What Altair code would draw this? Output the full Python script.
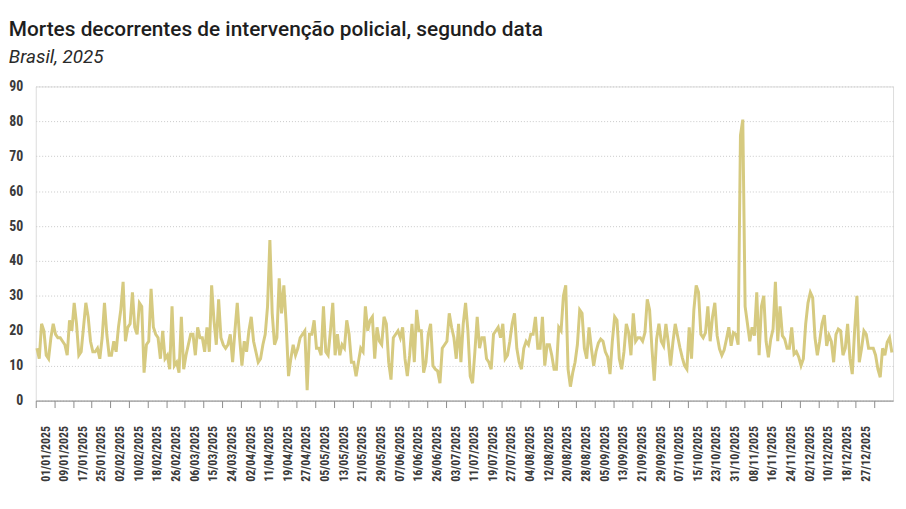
import json

import altair as alt
import pandas as pd

# Daily deaths (one value per category)
mortes = [
    15, 12, 22, 20, 13, 12, 18, 22, 19, 18, 18, 17, 16, 13, 23, 20, 28, 22, 13, 14,
    21, 28, 24, 17, 14, 14, 15, 12, 18, 28, 19, 13, 13, 17, 14, 21, 26, 34, 17, 21,
    22, 31, 21, 19, 28, 27, 8, 16, 17, 32, 21, 19, 18, 12, 20, 12, 13, 9, 27, 10,
    11, 8, 24, 9, 13, 16, 19, 19, 13, 21, 18, 18, 14, 21, 14, 33, 23, 16, 29, 18,
    16, 15, 16, 19, 11, 20, 28, 18, 10, 17, 14, 20, 24, 17, 14, 11, 12, 16, 19, 27,
    46, 25, 16, 18, 35, 25, 33, 22, 7, 12, 16, 13, 15, 18, 19, 20, 3, 19, 19, 23,
    15, 15, 13, 27, 14, 13, 20, 28, 13, 19, 13, 16, 15, 23, 19, 11, 11, 7, 11, 15,
    14, 27, 20, 23, 24, 12, 21, 17, 16, 24, 22, 11, 6, 18, 19, 20, 18, 21, 12, 7,
    13, 22, 11, 26, 20, 20, 8, 11, 19, 22, 10, 9, 8.5, 5, 15, 16, 17, 25, 21, 18,
    12, 22, 11, 22, 28, 20, 7, 5, 14, 24, 15, 18, 18, 12, 11, 9, 19, 20, 21, 18,
    22, 12, 13, 17, 22, 25, 15, 11, 9, 15, 17, 16, 19, 19, 24, 15, 15, 24, 10, 16,
    16, 13, 9, 9, 21, 20, 30, 33, 9, 4, 8, 11, 16, 26, 25, 15, 12, 21, 15, 10,
    14, 16.5, 17.6, 17, 14, 12.5, 7.6, 17, 24, 23, 12, 9, 14, 22, 19.5, 13, 25, 17, 18, 18,
    17, 19.5, 29, 26, 15, 5.7, 17.6, 22, 17, 15.7, 22, 16.7, 10, 16.7, 22, 18.6, 15.2, 12.4, 10, 9,
    21, 12, 26, 33, 31, 19, 18, 19.5, 27, 17, 24, 28, 18.6, 14.8, 13, 14.5, 17.6, 21, 15.7, 19.5,
    19, 16, 76, 80.5, 27, 22, 17, 21, 18.6, 31, 13, 27, 30, 17, 12.4, 17.6, 20.5, 34, 17, 27,
    18.6, 17.6, 15, 15, 21, 13.3, 14, 12.5, 10, 12, 22, 28, 31, 29.5, 18, 13, 17, 22, 24.5, 15.7,
    18.7, 17, 11, 19, 20.5, 20, 13, 15, 22, 12, 7.6, 20, 30, 11, 15, 20, 19, 15, 15, 15,
    13, 9, 6.7, 15, 13, 16.7, 18, 13.8,
]

# One label every 8 categories, as printed under the axis
rotulos = [
    "01/01/2025", "09/01/2025", "17/01/2025", "25/01/2025", "02/02/2025", "10/02/2025",
    "18/02/2025", "26/02/2025", "06/03/2025", "15/03/2025", "24/03/2025", "02/04/2025",
    "11/04/2025", "19/04/2025", "27/04/2025", "05/05/2025", "13/05/2025", "21/05/2025",
    "29/05/2025", "07/06/2025", "16/06/2025", "26/06/2025", "03/07/2025", "11/07/2025",
    "19/07/2025", "27/07/2025", "04/08/2025", "12/08/2025", "20/08/2025", "28/08/2025",
    "05/09/2025", "13/09/2025", "21/09/2025", "29/09/2025", "07/10/2025", "15/10/2025",
    "23/10/2025", "31/10/2025", "08/11/2025", "16/11/2025", "24/11/2025", "02/12/2025",
    "10/12/2025", "18/12/2025", "27/12/2025",
]
passo = 8
y_ticks = list(range(0, 91, 10))

n = len(mortes)
df = pd.DataFrame({"pos": [i + 0.5 for i in range(n)], "mortes": mortes})

plot_w = 865
plot_h = 317
half_group = plot_w / n * passo / 2  # pixels from group start to group centre

label_values = [k * passo + passo / 2 for k in range(len(rotulos) + 1)]
label_expr = f"{json.dumps(rotulos + [''])}[floor(datum.value / {passo})]"

font = "Roboto"
narrow = "Liberation Sans Narrow, Roboto Condensed, Roboto, sans-serif"

chart = alt.Chart(df).mark_line(
    color="#d6ca80", strokeWidth=3, interpolate="linear"
).encode(
    x=alt.X(
        "pos:Q",
        title=None,
        scale=alt.Scale(domain=[0, n], nice=False, zero=False),
        axis=alt.Axis(
            values=label_values,
            labelExpr=label_expr,
            labelAngle=-90,
            labelAlign="right",
            labelBaseline="middle",
            tickOffset=-half_group,
            labelOffset=half_group,
            tickSize=7,
            tickColor="#8c8c8c",
            domainColor="#8c8c8c",
            labelPadding=18,
            labelFont=narrow,
            labelFontSize=12,
            labelFontWeight="bold",
            labelColor="#3a3a3a",
            grid=False,
        ),
    ),
    y=alt.Y(
        "mortes:Q",
        title=None,
        scale=alt.Scale(domain=[0, 90], nice=False),
        axis=alt.Axis(
            values=y_ticks,
            domain=False,
            ticks=False,
            tickSize=0,
            labelPadding=13,
            labelFont=narrow,
            labelFontSize=14,
            labelFontWeight="bold",
            labelColor="#3a3a3a",
            grid=True,
            gridColor="#c8c8c8",
            gridDash=[1, 2],
            gridWidth=1,
        ),
    ),
).properties(
    width=plot_w,
    height=plot_h,
    padding={"left": 0, "top": 9, "right": 0, "bottom": 0},
    title=alt.TitleParams(
        text="Mortes decorrentes de intervenção policial, segundo data",
        subtitle="Brasil, 2025",
        anchor="start",
        font=font,
        fontSize=21,
        fontWeight=500,
        color="#1e1e1e",
        subtitleFont=font,
        subtitleFontSize=19,
        subtitleFontStyle="italic",
        subtitleColor="#2a2a2a",
        subtitlePadding=8,
        offset=13,
    ),
).configure_view(
    stroke=None
).configure(
    background="white"
)

chart.save("out.html", embed_options={"renderer": "svg", "actions": False})
